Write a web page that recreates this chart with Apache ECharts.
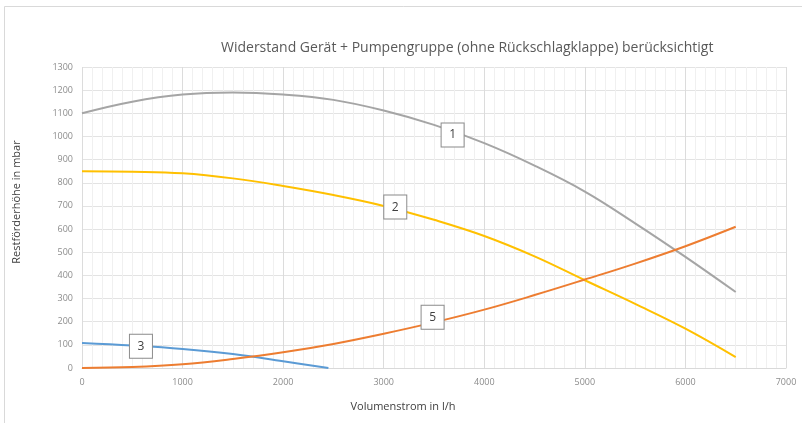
<!DOCTYPE html>
<html>
<head>
<meta charset="utf-8">
<script src="https://cdn.jsdelivr.net/npm/echarts@6/dist/echarts.min.js"></script>
<style>
  html, body { margin: 0; padding: 0; background: #ffffff; }
  #chart { width: 802px; height: 423px; }
</style>
</head>
<body>
<div id="chart"></div>
<script>
// Pump curves: residual head (mbar) over volume flow (l/h)
const flow1 = [0, 500, 1000, 1500, 2000, 2500, 3000, 3500, 4000, 4500, 5000, 5500, 6000, 6500];
const head1 = [1100, 1150, 1181, 1190, 1181, 1158, 1112, 1050, 971, 874, 762, 625, 480, 328];

const flow2 = [0, 500, 1000, 1500, 2000, 2500, 3000, 3500, 4000, 4500, 5000, 5500, 6000, 6500];
const head2 = [850, 848, 841, 819, 786, 747, 700, 640, 570, 482, 379, 277, 170, 47];

const flow3 = [0, 500, 1000, 1500, 2000, 2450];
const head3 = [108, 97, 82, 60, 29, 0];

const flow5 = [0, 500, 1000, 1500, 2000, 2500, 3000, 3500, 4000, 4500, 5000, 5500, 6000, 6500];
const head5 = [0, 4, 16, 39, 68, 104, 148, 197, 252, 315, 382, 451, 526, 610];

// Numbered curve tags: text and the [flow, head] spot each sits on
const tagText = ['1', '2', '3', '5'];
const tagAt = [[3685, 1006], [3115, 695], [586, 94], [3486, 219]];

const xTicks = { min: 0, max: 7000, step: 1000 };
const yTicks = { min: 0, max: 1300, step: 100 };

const titleText = 'Widerstand Gerät + Pumpengruppe (ohne Rückschlagklappe) berücksichtigt';
const yName = 'Restförderhöhe in mbar';
const xName = 'Volumenstrom in l/h';

const pairs = (xs, ys) => xs.map((x, i) => [x, ys[i]]);
const plain = (v) => String(v);

const tag = (i) => ({
  symbol: 'rect',
  symbolSize: [23, 24],
  silent: true,
  itemStyle: { color: '#ffffff', borderColor: '#8a8a8a', borderWidth: 1 },
  label: {
    show: true, position: 'inside', formatter: tagText[i],
    color: '#404040', fontSize: 12, fontFamily: 'Open Sans'
  },
  data: [{ coord: tagAt[i] }]
});

const curve = (name, data, color, tagIdx) => ({
  name: name,
  type: 'line',
  data: data,
  smooth: 0.4,
  showSymbol: false,
  symbol: 'none',
  lineStyle: { color: color, width: 2 },
  markPoint: tag(tagIdx),
  animation: false
});

const chart = echarts.init(document.getElementById('chart'), null, { renderer: 'canvas' });

chart.setOption({
  backgroundColor: '#ffffff',
  animation: false,
  title: {
    text: titleText,
    left: 216,
    top: 36,
    textStyle: { color: '#595959', fontSize: 14, fontWeight: 'normal', fontFamily: 'Open Sans' }
  },
  grid: { left: 82, right: 16, top: 67, bottom: 55, containLabel: false },
  xAxis: {
    type: 'value',
    min: xTicks.min, max: xTicks.max, interval: xTicks.step,
    axisLine: { show: true, lineStyle: { color: '#d9d9d9' } },
    axisTick: { show: false },
    axisLabel: { color: '#8c8c8c', fontSize: 9, fontFamily: 'Open Sans', margin: 10, formatter: plain },
    splitLine: { show: true, lineStyle: { color: '#dcdcdc', width: 1 } },
    minorTick: { show: false, splitNumber: 10 },
    minorSplitLine: { show: true, lineStyle: { color: '#f0f0f0', width: 1 } }
  },
  yAxis: {
    type: 'value',
    min: yTicks.min, max: yTicks.max, interval: yTicks.step,
    axisLine: { show: false },
    axisTick: { show: false },
    axisLabel: { color: '#8c8c8c', fontSize: 9, fontFamily: 'Open Sans', margin: 9, formatter: plain },
    splitLine: { show: true, lineStyle: { color: '#e3e3e3', width: 1 } }
  },
  graphic: [
    {
      type: 'rect', silent: true, z: -10,
      shape: { x: 4.5, y: 6.5, width: 900, height: 500 },
      style: { fill: 'none', stroke: '#d9d9d9', lineWidth: 1 }
    },
    {
      type: 'text', silent: true,
      x: 17, y: 202, rotation: Math.PI / 2,
      style: {
        text: yName, fill: '#404040', font: '11px "Open Sans"',
        textAlign: 'center', textVerticalAlign: 'middle'
      }
    },
    {
      type: 'text', silent: true,
      x: 403, y: 407,
      style: {
        text: xName, fill: '#404040', font: '11px "Open Sans"',
        textAlign: 'center', textVerticalAlign: 'middle'
      }
    }
  ],
  series: [
    curve('1', pairs(flow1, head1), '#a5a5a5', 0),
    curve('2', pairs(flow2, head2), '#ffc000', 1),
    curve('3', pairs(flow3, head3), '#5b9bd5', 2),
    curve('5', pairs(flow5, head5), '#ed7d31', 3)
  ]
});
</script>
</body>
</html>
